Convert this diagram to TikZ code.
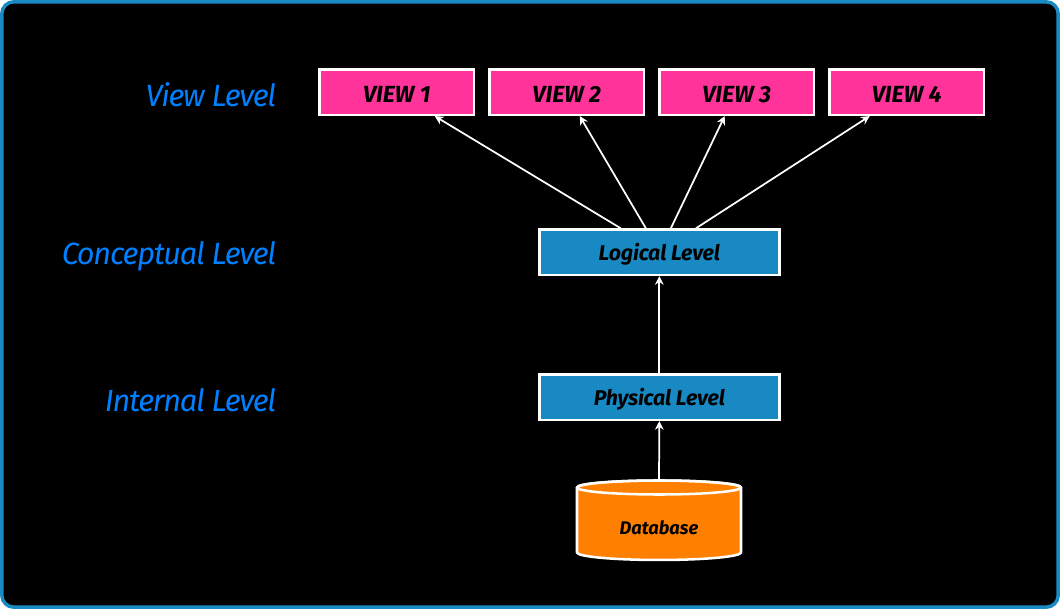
\documentclass[tikz,border=0pt]{standalone}
\usepackage{fontspec}
\setmainfont{Fira Sans}
\newfontfamily\labelfont[LetterSpace=-4]{Fira Sans}
\newfontfamily\tightfont[LetterSpace=-0.8]{Fira Sans}
\usetikzlibrary{arrows.meta,calc}
\definecolor{framec}{HTML}{1A8AC4}
\definecolor{pinkc}{HTML}{FF3399}
\definecolor{bluec}{HTML}{1889C3}
\definecolor{orangec}{HTML}{FF8000}
\definecolor{labelc}{HTML}{007FFF}
\tikzset{
  x=0.75pt,y=-0.75pt,
  viewbox/.style={draw=white,line width=1.9pt,fill=pinkc,minimum width=116pt,minimum height=33.9pt,inner sep=0pt,text height=15pt,text depth=0pt,font=\fontsize{17.5}{20}\selectfont\itshape\bfseries,text=black},
  levelbox/.style={draw=white,line width=1.9pt,fill=bluec,minimum width=180.1pt,minimum height=33.9pt,inner sep=0pt,text height=16pt,text depth=3pt,font=\tightfont\fontsize{16}{19}\selectfont\itshape\bfseries,text=black},
  dbtext/.style={minimum width=123pt,minimum height=59.6pt,inner sep=0pt,text height=21.4pt,text depth=0pt,font=\fontsize{13.7}{17}\selectfont\itshape\bfseries,text=black},
  dbline/.style={draw=white,line width=1.9pt,line join=round},
  levellabel/.style={anchor=east,inner sep=0pt,text=labelc,font=\labelfont\fontsize{23}{26}\selectfont\itshape},
  conn/.style={draw=white,line width=1.3pt,-{Stealth[length=6.5pt,width=6.5pt]}},
}
\begin{document}
\begin{tikzpicture}
\useasboundingbox (0,0) rectangle (1060,609);
\fill[white] (0,0) rectangle (1060,609);
\draw[framec,line width=2.6pt,fill=black,rounded corners=9pt] (1.8,1.8) rectangle (1058.2,607.2);
\node[viewbox] (v1) at (396.7,92.2) {VIEW 1};
\node[viewbox] (v2) at (566.7,92.2) {VIEW 2};
\node[viewbox] (v3) at (736.7,92.2) {VIEW 3};
\node[viewbox] (v4) at (906.7,92.2) {VIEW 4};
\node[levelbox] (logical) at (659.35,252.2) {Logical Level};
\node[levelbox] (physical) at (659.35,397.2) {Physical Level};
\path[dbline,fill=orangec] (577,487.5) -- (577,552.5) arc[start angle=180,end angle=360,x radius=61.5pt,y radius=5.6pt] -- (741,487.5) arc[start angle=0,end angle=180,x radius=61.5pt,y radius=5.25pt] -- cycle;
\draw[dbline] (659,487.5) ellipse [x radius=61.5pt,y radius=5.25pt];
\node[dbtext] (db) at (659,520) {Database};
\node[levellabel] (l1) at (276.5,94.5) {View Level};
\node[levellabel] (l2) at (276.5,256.5) {Conceptual Level};
\node[levellabel] (l3) at (276.5,400) {Internal Level};
\draw[conn] ([xshift=-28.9pt]logical.north) -- ([xshift=28.5pt]v1.south);
\draw[conn] ([xshift=-10.1pt]logical.north) -- ([xshift=9.75pt]v2.south);
\draw[conn] ([xshift=8.6pt]logical.north) -- ([xshift=-9pt]v3.south);
\draw[conn] ([xshift=27.4pt]logical.north) -- ([xshift=-27.75pt]v4.south);
\draw[conn] (physical.north) -- (logical.south);
\draw[conn] (db.north) -- (physical.south);
\end{tikzpicture}
\end{document}
